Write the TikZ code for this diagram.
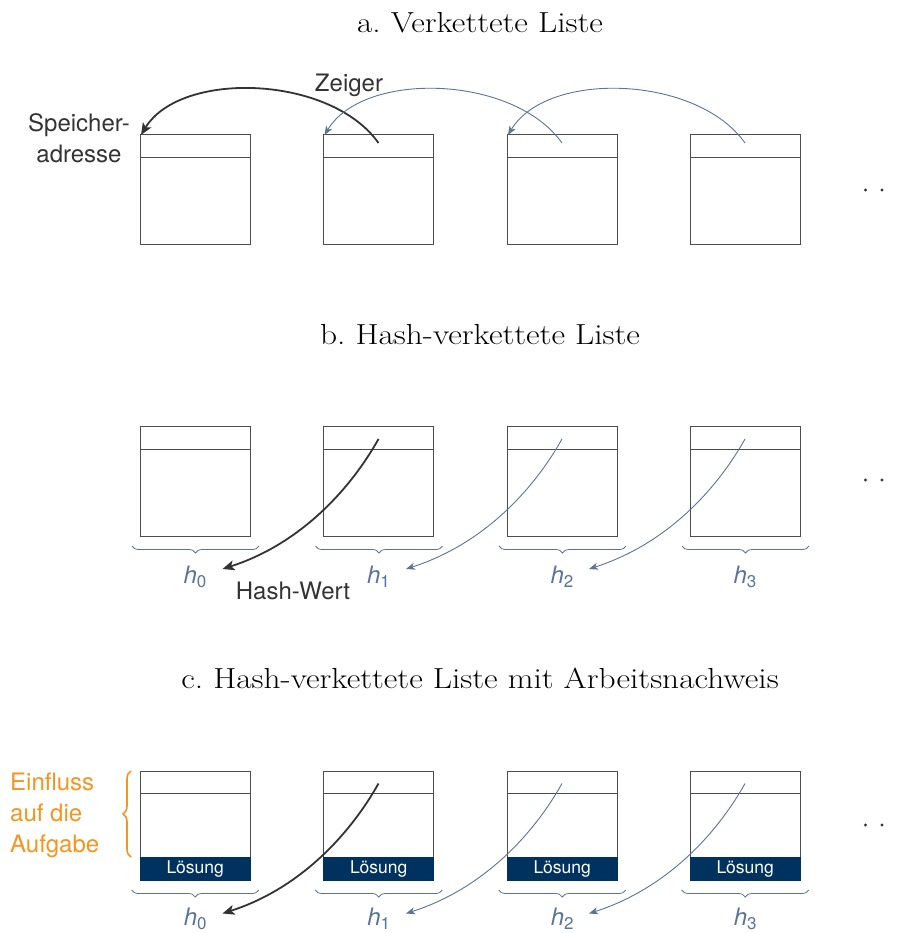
\documentclass[tikz,border=0pt]{standalone}
\usepackage{fontspec}
\setsansfont{TeX Gyre Heros}
\usetikzlibrary{arrows.meta,decorations.pathreplacing,calc}
\definecolor{boxgray}{HTML}{4D4D4D}
\definecolor{arrblue}{HTML}{5B7399}
\definecolor{arrdark}{HTML}{333333}
\definecolor{navy}{HTML}{00325F}
\definecolor{orng}{HTML}{F7941E}
\tikzset{
  cell/.style={draw=boxgray, line width=1pt, minimum width=110pt, inner sep=0pt, outer sep=0pt, anchor=north west},
  headline/.style={draw=boxgray, line width=1pt},
  solbar/.style={fill=navy, minimum width=111pt, minimum height=24pt, inner sep=0pt, outer sep=0pt, anchor=north west, text=white, font=\sffamily\fontsize{17.5}{20}\selectfont},
  titletext/.style={font=\fontsize{29}{34}\selectfont, anchor=base, inner sep=0pt},
  lbl/.style={font=\sffamily\fontsize{24}{31}\selectfont, text=arrdark, inner sep=0pt},
  hlbl/.style={font=\sffamily\fontsize{24}{30}\selectfont, text=arrblue, anchor=base, inner sep=0pt},
  darkarr/.style={draw=arrdark, line width=1.8pt, -{Stealth[length=12pt,width=10pt,inset=3pt]}},
  bluearr/.style={draw=arrblue, line width=0.9pt, -{Stealth[length=9pt,width=7pt,inset=2.5pt]}},
  hbrace/.style={draw=arrblue, line width=0.8pt, decorate, decoration={brace, mirror, amplitude=7pt}},
  obrace/.style={draw=orng, line width=1.6pt, decorate, decoration={brace, amplitude=8pt}},
  dotmark/.style={fill=arrdark, draw=none}
}
\newcommand{\hsub}[1]{{\itshape h}\raisebox{-4.5pt}{\fontsize{17}{17}\selectfont #1}}
\newcommand{\wtitle}[1]{\scalebox{1.15}[1]{#1}}
\begin{document}
\begin{tikzpicture}[x=1pt,y=-1pt]
\useasboundingbox (0,0) rectangle (896,933);

% ---------- Titles ----------
\node[titletext] (ta) at (480,33) {\wtitle{a.\ Verkettete Liste}};
\node[titletext] (tb) at (480,344) {\wtitle{b.\ Hash-verkettete Liste}};
\node[titletext] (tc) at (480,688) {\wtitle{c.\ Hash-verkettete Liste mit Arbeitsnachweis}};

% ---------- Row A ----------
\foreach \i/\x in {0/140,1/323.5,2/507,3/690}{
  \node[cell, minimum height=109pt] (a\i) at (\x,135) {};
  \draw[headline] ([yshift=-23pt]a\i.north west) -- ([yshift=-23pt]a\i.north east);
  \coordinate (as\i) at ($(a\i.north)+(0,8)$);
  \coordinate (ae\i) at ($(a\i.north west)+(1,0)$);
}
\draw[darkarr] (as1) .. controls ($(as1)+(-48,-68)$) and ($(as1)+(-198,-73)$) .. (ae0);
\draw[bluearr] (as2) .. controls ($(as2)+(-48,-68)$) and ($(as2)+(-198,-73)$) .. (ae1);
\draw[bluearr] (as3) .. controls ($(as3)+(-48,-68)$) and ($(as3)+(-198,-73)$) .. (ae2);
\node[lbl, anchor=base] (zeiger) at (349,91.7) {Zeiger};
\node[lbl, anchor=north, align=center] (speicher) at (79,113) {Speicher-\\adresse};
\fill[dotmark] (865.5,190) circle (1.7pt) (882,190) circle (1.7pt);

% ---------- Row B ----------
\foreach \i/\x in {0/140,1/323.5,2/507,3/690}{
  \node[cell, minimum height=110pt] (b\i) at (\x,426) {};
  \draw[headline] ([yshift=-23pt]b\i.north west) -- ([yshift=-23pt]b\i.north east);
  \coordinate (bs\i) at ($(b\i.north)+(0,13)$);
  \draw[hbrace] ($(b\i.south west)+(-8,10)$) -- ($(b\i.south east)+(9,10)$);
  \node[hlbl] (bh\i) at ($(b\i.south)+(0,47)$) {\hsub{\i}};
}
\draw[darkarr] (bs1) .. controls ($(bs1)+(-28,50)$) and ($(bs1)+(-78,105)$) .. ($(bs1)+(-156,130)$);
\draw[bluearr] (bs2) .. controls ($(bs2)+(-28,50)$) and ($(bs2)+(-78,105)$) .. ($(bs2)+(-156,130)$);
\draw[bluearr] (bs3) .. controls ($(bs3)+(-28,50)$) and ($(bs3)+(-78,105)$) .. ($(bs3)+(-156,130)$);
\node[lbl, anchor=base] (hashwert) at (293,599) {Hash-Wert};
\fill[dotmark] (865.5,480) circle (1.7pt) (882,480) circle (1.7pt);

% ---------- Row C ----------
\foreach \i/\x in {0/140,1/323.5,2/507,3/690}{
  \node[cell, minimum height=86pt] (c\i) at (\x,771) {};
  \draw[headline] ([yshift=-22.5pt]c\i.north west) -- ([yshift=-22.5pt]c\i.north east);
  \node[solbar] (l\i) at ($(c\i.south west)+(-0.3,0)$) {Lösung};
  \coordinate (cs\i) at ($(c\i.north)+(0,12.5)$);
  \draw[hbrace] ($(l\i.south west)+(-8,9)$) -- ($(l\i.south east)+(8,9)$);
  \node[hlbl] (ch\i) at ($(l\i.south)+(0,44)$) {\hsub{\i}};
}
\draw[darkarr] (cs1) .. controls ($(cs1)+(-28,50)$) and ($(cs1)+(-78,105)$) .. ($(cs1)+(-156,130)$);
\draw[bluearr] (cs2) .. controls ($(cs2)+(-28,50)$) and ($(cs2)+(-78,105)$) .. ($(cs2)+(-156,130)$);
\draw[bluearr] (cs3) .. controls ($(cs3)+(-28,50)$) and ($(cs3)+(-78,105)$) .. ($(cs3)+(-156,130)$);
\fill[dotmark] (865.5,825) circle (1.7pt) (882,825) circle (1.7pt);

\draw[obrace] ($(c0.south west)+(-9,0)$) -- ($(c0.north west)+(-9,0)$);
\node[lbl, text=orng, anchor=north west, align=left] (einfluss) at (10,773) {Einfluss\\auf die\\Aufgabe};
\end{tikzpicture}
\end{document}
